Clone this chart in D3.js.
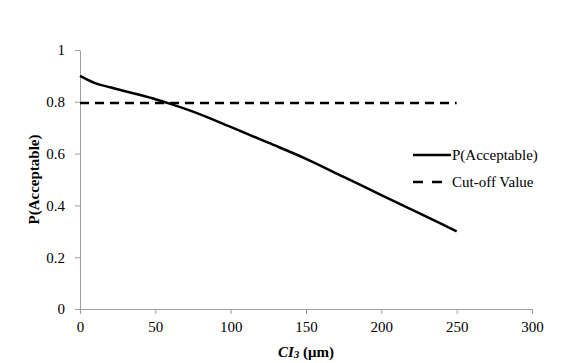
<!DOCTYPE html>
<html>
<head>
<meta charset="utf-8">
<script src="https://cdn.jsdelivr.net/npm/d3@7"></script>
<style>
  body { margin: 0; background: #fff; }
  text { font-family: "Liberation Serif", "Times New Roman", serif; fill: #000; }
  .axis path, .axis line { stroke: #a0a0a0; }
  .axis text { font-size: 15px; font-family: "Liberation Serif", serif; }
</style>
</head>
<body>
<div id="chart"></div>
<script>
// data
const ciValues = [0, 10, 20, 30, 40, 50, 60, 75, 100, 125, 150, 175, 200, 225, 250];
const pAcceptable = [0.90, 0.872, 0.856, 0.841, 0.826, 0.81, 0.792, 0.762, 0.703, 0.642, 0.58, 0.51, 0.44, 0.37, 0.30];
const cutoffX = [0, 250];
const cutoffValue = 0.795;
const xTicks = [0, 50, 100, 150, 200, 250, 300];
const yTicks = [0, 0.2, 0.4, 0.6, 0.8, 1];
const seriesNames = ["P(Acceptable)", "Cut-off Value"];

const W = 587, H = 363;
const margin = { top: 50, right: 55, bottom: 54, left: 80 };
const width = W - margin.left - margin.right;
const height = H - margin.top - margin.bottom;

const svg = d3.select("#chart").append("svg")
  .attr("width", W)
  .attr("height", H);

const g = svg.append("g")
  .attr("transform", `translate(${margin.left},${margin.top})`);

const x = d3.scaleLinear().domain([0, 300]).range([0, width]);
const y = d3.scaleLinear().domain([0, 1]).range([height, 0]);

g.append("g")
  .attr("class", "axis")
  .attr("transform", `translate(0,${height})`)
  .call(d3.axisBottom(x).tickValues(xTicks).tickSize(5).tickSizeOuter(0).tickPadding(6))
  .call(a => a.selectAll("text").attr("dy", "0.8em"));

g.append("g")
  .attr("class", "axis")
  .call(d3.axisLeft(y).tickValues(yTicks).tickSize(5).tickSizeOuter(0).tickPadding(10)
    .tickFormat(d => d3.format("")(d)));

const line = d3.line()
  .x((d, i) => x(ciValues[i]))
  .y(d => y(d))
  .curve(d3.curveMonotoneX);

g.append("path")
  .datum(pAcceptable)
  .attr("fill", "none")
  .attr("stroke", "#000")
  .attr("stroke-width", 2.5)
  .attr("d", line);

g.append("path")
  .datum(cutoffX)
  .attr("fill", "none")
  .attr("stroke", "#000")
  .attr("stroke-width", 2.5)
  .attr("stroke-dasharray", "9,6")
  .attr("d", d3.line().x(d => x(d)).y(() => y(cutoffValue)));

// legend
const legend = svg.append("g").attr("transform", "translate(413,155)");
seriesNames.forEach((name, i) => {
  const row = legend.append("g").attr("transform", `translate(0,${i * 27})`);
  row.append("line")
    .attr("x1", 0).attr("x2", i === 0 ? 38 : 29)
    .attr("stroke", "#000")
    .attr("stroke-width", 2.5)
    .attr("stroke-dasharray", i === 1 ? "10,9" : null);
  row.append("text")
    .attr("x", 39)
    .attr("dy", "0.35em")
    .style("font-size", "15px")
    .text(name);
});

// axis titles
svg.append("text")
  .attr("transform", `translate(39,${margin.top + height / 2}) rotate(-90)`)
  .attr("text-anchor", "middle")
  .style("font-size", "15px")
  .style("font-weight", "bold")
  .text("P(Acceptable)");

const xt = svg.append("text")
  .attr("x", margin.left + width / 2)
  .attr("y", 357)
  .attr("text-anchor", "middle")
  .style("font-size", "15px")
  .style("font-weight", "bold");
xt.append("tspan").style("font-style", "italic").text("CI");
xt.append("tspan").style("font-style", "italic").style("font-size", "11px").attr("dy", 1).text("3");
xt.append("tspan").attr("dy", -1).text(" (μm)");
</script>
</body>
</html>
